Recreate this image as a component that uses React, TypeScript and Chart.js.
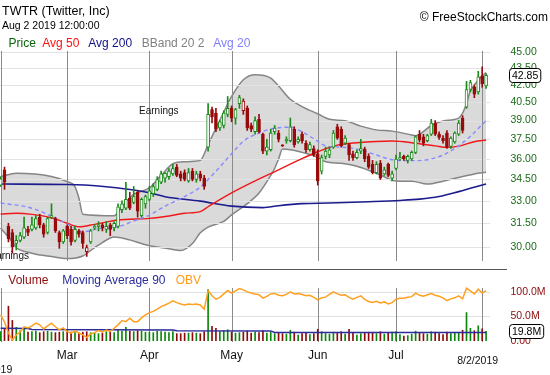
import React, { useEffect, useRef } from 'react';
import { Chart, registerables } from 'chart.js';

Chart.register(...registerables);

const FONT = "'Liberation Sans', Arial, sans-serif";

// ---------- texts ----------
const tickerTitle = 'TWTR (Twitter, Inc)';
const copyrightText = '\u00A9 FreeStockCharts.com';
const priceLegend = ['Price', 'Avg 50', 'Avg 200', 'BBand 20 2', 'Avg 20'];
const volumeLegend = ['Volume', 'Moving Average 90', 'OBV'];
const monthNames = ['Jan', 'Feb', 'Mar', 'Apr', 'May', 'Jun', 'Jul', 'Aug'];
const year = 2019;

// ---------- trading days ----------
const febDays = [5, 6, 7, 8, 11, 12, 13, 14, 15, 19, 20, 21, 22, 25, 26, 27, 28];
const marDays = [1, 4, 5, 6, 7, 8, 11, 12, 13, 14, 15, 18, 19, 20, 21, 22, 25, 26, 27, 28, 29];
const aprDays = [1, 2, 3, 4, 5, 8, 9, 10, 11, 12, 15, 16, 17, 18, 22, 23, 24, 25, 26, 29, 30];
const mayDays = [1, 2, 3, 6, 7, 8, 9, 10, 13, 14, 15, 16, 17, 20, 21, 22, 23, 24, 28, 29, 30, 31];
const junDays = [3, 4, 5, 6, 7, 10, 11, 12, 13, 14, 17, 18, 19, 20, 21, 24, 25, 26, 27, 28];
const julDays = [1, 2, 3, 5, 8, 9, 10, 11, 12, 15, 16, 17, 18, 19, 22, 23, 24, 25, 26, 29, 30, 31];
const augDays = [1, 2];

// ---------- OHLC ----------
const opens = [
  34.1, 35.2, 31.3, 30.9, 30.2, 30.4, 30.6, 31.1, 31.1, 31.2,
  31.9, 31.4, 30.9, 31.9, 31.8, 30.9, 30.3, 31.3, 31.1, 30.4,
  31.0, 30.9, 29.7, 30.3, 31.2, 31.3, 31.4, 31.1, 31.4, 31.2,
  31.3, 32.4, 32.5, 33.2, 32.9, 33.6, 32.0, 32.8, 33.1, 33.5,
  33.8, 34.3, 34.6, 34.7, 34.9, 35.4, 34.9, 35.0, 34.4, 35.1,
  34.5, 34.9, 34.6, 36.9, 39.9, 39.6, 38.4, 38.6, 39.5, 40.0,
  39.2, 40.4, 39.8, 40.0, 38.6, 38.1, 39.1, 37.9, 36.6, 36.7,
  38.1, 38.0, 37.05, 37.4, 37.4, 38.3, 37.3, 37.9, 37.2, 36.7,
  36.8, 36.4, 35.1, 36.2, 36.3, 36.9, 38.5, 38.3, 37.2, 37.1,
  36.4, 36.1, 36.6, 36.75, 36.2, 35.6, 35.0, 35.7, 34.9, 35.6,
  34.6, 35.3, 36.0, 36.2, 35.9, 36.0, 36.5, 37.9, 37.7, 37.4,
  37.9, 38.8, 37.9, 37.6, 38.0, 36.95, 37.3, 37.9, 39.2, 40.1,
  41.6, 41.8, 41.4, 42.8, 41.9,
];
const highs = [
  34.7, 35.4, 31.5, 31.1, 30.7, 30.9, 31.9, 31.3, 31.9, 32.0,
  32.1, 31.5, 31.9, 32.8, 31.9, 31.0, 31.1, 31.4, 31.3, 31.3,
  31.1, 31.0, 30.1, 31.1, 31.4, 31.6, 31.5, 31.6, 31.5, 31.6,
  32.8, 33.0, 34.3, 33.6, 34.0, 33.7, 33.2, 33.4, 34.0, 34.2,
  34.7, 35.1, 35.0, 35.3, 35.6, 35.6, 35.1, 35.2, 35.3, 35.3,
  35.1, 35.1, 34.8, 40.4, 40.1, 40.0, 39.0, 39.8, 41.0, 40.2,
  40.0, 41.1, 40.8, 40.2, 38.8, 39.3, 39.5, 38.0, 37.5, 38.3,
  38.6, 38.2, 37.1, 37.7, 39.2, 38.5, 37.7, 38.1, 37.4, 37.3,
  37.0, 36.7, 36.3, 36.9, 36.9, 38.2, 38.7, 38.5, 37.8, 37.2,
  36.6, 36.7, 37.5, 36.9, 36.4, 35.9, 35.8, 35.9, 35.4, 35.7,
  35.1, 36.3, 36.5, 36.3, 36.3, 36.6, 37.8, 38.2, 37.9, 37.9,
  39.1, 39.0, 38.1, 37.8, 38.2, 37.7, 38.1, 39.0, 39.4, 42.3,
  42.4, 42.0, 43.2, 43.6, 43.0,
];
const lows = [
  34.0, 33.8, 30.3, 29.6, 29.8, 30.3, 30.5, 30.7, 31.0, 31.1,
  31.2, 30.6, 30.8, 31.8, 30.9, 29.9, 30.2, 30.5, 30.1, 30.3,
  30.6, 29.9, 29.4, 30.2, 31.1, 31.0, 31.0, 30.9, 30.7, 31.0,
  31.2, 32.2, 32.4, 32.4, 32.8, 31.9, 31.9, 32.5, 33.0, 33.3,
  33.7, 34.2, 34.3, 34.5, 34.8, 34.7, 34.4, 34.4, 34.3, 34.4,
  34.3, 34.4, 33.8, 36.6, 38.8, 38.1, 38.2, 38.4, 39.3, 38.9,
  38.7, 40.0, 39.5, 38.2, 38.1, 37.9, 38.0, 36.4, 36.3, 36.6,
  37.9, 37.3, 36.95, 37.2, 37.3, 36.9, 37.2, 37.2, 36.5, 36.6,
  36.2, 34.1, 34.9, 36.0, 36.1, 36.8, 37.5, 36.9, 37.1, 35.9,
  35.9, 36.0, 36.4, 35.8, 35.3, 34.9, 34.9, 34.5, 34.8, 34.7,
  34.4, 35.2, 35.9, 35.9, 35.7, 35.9, 36.4, 37.3, 37.0, 37.3,
  37.8, 37.8, 37.5, 37.2, 36.8, 36.8, 37.2, 37.8, 38.0, 40.0,
  41.4, 40.9, 41.2, 41.8, 41.7,
];
const closes = [
  34.55, 34.3, 30.5, 30.0, 30.4, 30.7, 31.2, 30.9, 31.4, 31.8,
  31.4, 30.8, 31.8, 32.0, 31.0, 30.3, 31.0, 30.7, 30.3, 31.1,
  30.8, 30.2, 29.95, 31.0, 31.3, 31.4, 31.2, 31.3, 31.1, 31.5,
  32.6, 32.8, 33.1, 32.5, 33.3, 32.3, 33.1, 33.3, 33.7, 34.0,
  34.5, 34.9, 34.95, 35.1, 35.3, 34.8, 34.6, 34.5, 35.0, 34.5,
  34.9, 34.6, 34.0, 39.5, 39.3, 38.3, 38.9, 39.6, 40.0, 39.2,
  39.9, 40.9, 40.6, 38.4, 38.3, 39.0, 38.1, 36.6, 36.9, 38.0,
  38.4, 37.5, 37.0, 37.5, 38.5, 37.1, 37.5, 37.4, 36.7, 37.1,
  36.3, 34.4, 36.1, 36.6, 36.7, 38.0, 37.6, 37.0, 37.6, 36.3,
  36.1, 36.5, 36.8, 36.0, 35.4, 35.0, 35.6, 34.6, 35.2, 34.8,
  34.9, 36.0, 36.1, 36.0, 36.2, 36.5, 37.7, 37.45, 37.2, 37.8,
  38.8, 37.9, 37.65, 37.4, 36.9, 37.6, 38.0, 38.8, 38.2, 41.6,
  42.2, 41.2, 42.7, 42.1, 42.85,
];

// ---------- volume (millions) & OBV ----------
const volumes = [
  19, 24, 71, 42, 28, 21, 27, 18, 19, 20,
  17, 19, 20, 18, 17, 18, 19, 21, 18, 17,
  16, 18, 19, 17, 16, 15, 16, 19, 18, 17,
  22, 20, 28, 20, 19, 21, 20, 18, 18, 17,
  20, 19, 18, 17, 19, 15, 15, 16, 16, 17,
  16, 15, 19, 105, 30, 26, 19, 21, 23, 18,
  16, 17, 18, 20, 16, 18, 17, 21, 16, 18,
  15, 16, 15, 14, 22, 18, 12, 15, 16, 13,
  15, 24, 19, 15, 14, 18, 17, 19, 14, 24,
  16, 12, 15, 16, 18, 17, 15, 19, 14, 17,
  18, 19, 13, 10, 11, 14, 20, 17, 15, 14,
  19, 18, 15, 13, 18, 15, 16, 17, 22, 58,
  26, 21, 31, 25, 19.8,
];
const obv = [
  148, 106, 41, 0, 30, 47, 77, 71, 83, 99,
  89, 65, 83, 99, 78, 59, 71, 49, 40, 53,
  41, 30, 14, 35, 43, 56, 47, 59, 50, 69,
  89, 114, 108, 128, 108, 108, 130, 148, 161, 168,
  181, 196, 206, 217, 230, 220, 212, 206, 212, 209,
  212, 206, 181, 291, 260, 240, 251, 271, 291, 276,
  289, 303, 295, 283, 277, 271, 266, 246, 257, 271,
  274, 263, 260, 268, 283, 271, 274, 268, 260, 263,
  251, 236, 248, 252, 268, 283, 271, 263, 266, 251,
  240, 251, 260, 239, 226, 220, 227, 218, 224, 212,
  220, 240, 245, 246, 251, 255, 276, 263, 257, 266,
  273, 263, 257, 248, 232, 242, 248, 260, 242, 305,
  289, 271, 299, 276, 291,
];

// ---------- indicator lines (day index -> value) ----------
const bbUpperDays = [0, 4, 13, 17, 19, 20, 21, 29, 31, 34, 38, 41, 44, 47, 51, 53, 57, 59, 62, 65, 69, 71, 74, 77, 81, 84, 88, 92, 96, 100, 105, 106, 110, 113, 117, 118, 119, 120, 121, 122, 123, 124];
const bbUpperValues = [34.7, 34.95, 34.72, 34.35, 34.0, 33.2, 32.1, 32.0, 32.6, 33.45, 33.9, 34.8, 35.65, 35.8, 35.9, 37.1, 39.7, 41.0, 42.45, 42.9, 42.6, 41.9, 40.76, 40.15, 39.55, 39.1, 38.98, 38.55, 38.25, 38.15, 37.85, 37.78, 38.6, 38.97, 39.2, 39.6, 40.4, 41.5, 42.0, 42.4, 42.8, 43.1];
const bbLowerDays = [0, 3, 4, 8, 13, 17, 21, 24, 25, 28, 29, 33, 37, 43, 46, 49, 51, 53, 57, 59, 63, 66, 69, 70, 71, 72, 74, 77, 80, 83, 87, 91, 94, 97, 100, 102, 105, 109, 113, 117, 121, 124];
const bbLowerValues = [31.19, 30.3, 29.95, 29.6, 29.39, 29.27, 29.43, 29.95, 30.1, 30.55, 30.62, 30.43, 30.12, 29.87, 29.76, 30.2, 30.88, 31.25, 31.62, 32.05, 32.81, 33.55, 34.8, 35.3, 36.0, 36.75, 36.7, 36.5, 36.25, 35.8, 35.68, 35.46, 35.17, 34.82, 34.45, 34.38, 34.38, 34.17, 34.38, 34.64, 34.9, 35.02];
const avg20Days = [0, 8, 17, 21, 25, 30, 34, 38, 42, 47, 51, 55, 59, 62, 66, 70, 74, 76, 80, 83, 87, 92, 96, 100, 105, 109, 113, 117, 120, 124];
const avg20Values = [32.85, 32.5, 31.46, 30.95, 31.14, 31.27, 31.65, 32.04, 32.64, 33.3, 33.96, 35.1, 36.4, 37.35, 38.0, 38.38, 38.46, 38.25, 37.55, 37.0, 36.9, 36.7, 36.3, 35.95, 35.88, 35.95, 36.3, 37.0, 37.75, 39.0];
const avg50Days = [0, 4, 8, 13, 17, 20, 24, 30, 38, 43, 47, 51, 53, 59, 65, 71, 76, 81, 86, 91, 100, 106, 111, 114, 117, 121, 124];
const avg50Values = [32.11, 32.16, 32.09, 31.86, 31.5, 31.27, 31.43, 31.71, 31.82, 31.98, 32.16, 32.27, 32.6, 33.55, 34.4, 35.2, 35.9, 36.55, 37.06, 37.24, 37.37, 37.2, 37.0, 36.88, 36.98, 37.32, 37.45];
const avg200Days = [0, 17, 25, 34, 38, 42, 51, 59, 67, 71, 77, 84, 94, 102, 107, 112, 117, 124];
const avg200Values = [34.18, 34.14, 34.04, 33.76, 33.56, 33.29, 32.98, 32.64, 32.54, 32.67, 32.81, 32.85, 32.94, 33.03, 33.12, 33.3, 33.64, 34.18];
const volMaDays = [0, 7, 8, 44, 45, 69, 70, 124];
const volMaValues = [25.9, 25.6, 23.5, 22.3, 21.0, 20.6, 17.5, 17.6];

// earnings annotations (day position, price level)
const earningsDays = [2.2, 40.4];
const earningsPrices = [29.4, 39.74];

// axis ticks
const priceTicks = [30, 31.5, 33, 34.5, 36, 37.5, 39, 40.5, 42, 43.5, 45];
const volumeTicks = [0, 50, 100];

// ---------- derived ----------
const dates = [
  ...febDays.map((d) => ({ m: 2, d })),
  ...marDays.map((d) => ({ m: 3, d })),
  ...aprDays.map((d) => ({ m: 4, d })),
  ...mayDays.map((d) => ({ m: 5, d })),
  ...junDays.map((d) => ({ m: 6, d })),
  ...julDays.map((d) => ({ m: 7, d })),
  ...augDays.map((d) => ({ m: 8, d })),
];
const periodStarts = dates.map((dt, i) => (i === 0 || dates[i - 1].m !== dt.m ? i : -1)).filter((i) => i >= 0);
const lastIdx = dates.length - 1;

const GREEN = '#1b8a1b';
const RED = '#990b0b';
const upDay = closes.map((c, i) => c >= (i ? closes[i - 1] : opens[i]));
const candleColors = upDay.map((u) => (u ? GREEN : RED));
const bodyFills = closes.map((c, i) => (c > opens[i] ? '#ffffff' : candleColors[i]));
const volColors = upDay.map((u) => (u ? '#0c870c' : '#8e0a0a'));

const X_MIN = -0.153;
const X_MAX = 125.0;

const pts = (days: number[], vals: number[]) => days.map((d, k) => ({ x: d, y: vals[k] }));

function lineDs(label: string, data: any[], color: string, width: number, extra: any = {}) {
  return {
    type: 'line',
    label,
    data,
    borderColor: color,
    borderWidth: width,
    pointRadius: 0,
    pointHoverRadius: 0,
    fill: false,
    cubicInterpolationMode: 'monotone',
    ...extra,
  };
}

function drawText(
  ctx: CanvasRenderingContext2D,
  s: string,
  x: number,
  y: number,
  size: number,
  color: string,
  align: CanvasTextAlign = 'left',
  baseline: CanvasTextBaseline = 'alphabetic'
) {
  ctx.font = `${size}px ${FONT}`;
  ctx.fillStyle = color;
  ctx.textAlign = align;
  ctx.textBaseline = baseline;
  ctx.fillText(s, x, y);
}

function valueBox(ctx: CanvasRenderingContext2D, s: string, x: number, yMid: number, size: number) {
  ctx.font = `${size}px ${FONT}`;
  const w = ctx.measureText(s).width;
  const bh = 14;
  const by = Math.round(yMid - bh / 2) + 0.5;
  ctx.beginPath();
  (ctx as any).roundRect(x - 2.5, by, w + 5, bh, 3);
  ctx.fillStyle = '#ffffff';
  ctx.fill();
  ctx.strokeStyle = '#000000';
  ctx.lineWidth = 1;
  ctx.stroke();
  drawText(ctx, s, x, yMid + 0.5, size, '#000000', 'left', 'middle');
}

function hLine(ctx: CanvasRenderingContext2D, x1: number, x2: number, y: number) {
  const yy = Math.round(y) + 0.5;
  ctx.beginPath();
  ctx.moveTo(x1, yy);
  ctx.lineTo(x2, yy);
  ctx.stroke();
}
function vLine(ctx: CanvasRenderingContext2D, x: number, y1: number, y2: number) {
  const xx = Math.round(x) + 0.5;
  ctx.beginPath();
  ctx.moveTo(xx, y1);
  ctx.lineTo(xx, y2);
  ctx.stroke();
}

const pricePlugin = {
  id: 'pricePlugin',
  afterDatasetDraw(chart: any, args: any) {
    if (args.index !== 1) return;
    const { ctx, chartArea: a, scales } = chart;
    ctx.save();
    ctx.lineWidth = 1;
    ctx.strokeStyle = '#e3e3e3';
    priceTicks.forEach((v) => hLine(ctx, a.left, a.right, scales.y.getPixelForValue(v)));
    ctx.strokeStyle = '#8a8a8a';
    periodStarts.forEach((i) => vLine(ctx, scales.x.getPixelForValue(i), a.top, a.bottom));
    ctx.restore();
  },
  afterDatasetsDraw(chart: any) {
    const { ctx, scales } = chart;
    ctx.save();
    earningsDays.forEach((d, k) =>
      drawText(ctx, 'Earnings', scales.x.getPixelForValue(d), scales.y.getPixelForValue(earningsPrices[k]), 10, '#111111', 'center', 'middle')
    );
    ctx.restore();
  },
  afterDraw(chart: any) {
    const { ctx, chartArea: a, scales } = chart;
    ctx.save();
    const last = dates[lastIdx];
    drawText(ctx, tickerTitle, 2, 15, 12.5, '#000000');
    drawText(ctx, `${monthNames[last.m - 1]} ${last.d} ${year} 12:00:00`, 2, 29, 10.5, '#000000');
    drawText(ctx, copyrightText, 548, 21, 12, '#000000', 'right');
    const legendX = [8.5, 42.3, 88.3, 141.7, 213.3];
    const legendColors = ['#0b640b', '#ff1010', '#10108a', '#808080', '#8080ff'];
    priceLegend.forEach((s, k) => drawText(ctx, s, legendX[k], 47, 12, legendColors[k]));
    priceTicks.forEach((v) =>
      drawText(ctx, v.toFixed(2), a.right + 20.5, scales.y.getPixelForValue(v), 10.5, '#1a6b1a', 'left', 'middle')
    );
    valueBox(ctx, closes[lastIdx].toFixed(2), a.right + 22, scales.y.getPixelForValue(closes[lastIdx]), 10.5);
    ctx.restore();
  },
};

const volumePlugin = {
  id: 'volumePlugin',
  beforeDatasetsDraw(chart: any) {
    const { ctx, chartArea: a, scales } = chart;
    ctx.save();
    ctx.lineWidth = 1;
    ctx.strokeStyle = '#e0e0e0';
    volumeTicks.filter((v) => v > 0).forEach((v) => hLine(ctx, a.left, a.right, scales.v.getPixelForValue(v)));
    ctx.strokeStyle = '#8a8a8a';
    periodStarts.forEach((i) => vLine(ctx, scales.x.getPixelForValue(i), a.top + 16, a.bottom + 1));
    ctx.restore();
  },
  afterDraw(chart: any) {
    const { ctx, chartArea: a, scales } = chart;
    ctx.save();
    ctx.strokeStyle = '#555555';
    ctx.lineWidth = 1;
    hLine(ctx, 0, 507, 3);
    const legX = [8.3, 62.3, 175.7];
    const legC = ['#8b0a0a', '#2b2b9b', '#ff9a1a'];
    volumeLegend.forEach((s, k) => drawText(ctx, s, legX[k], 18, 12, legC[k]));
    volumeTicks.forEach((v) =>
      drawText(ctx, v === 0 ? '0.00' : `${v.toFixed(1)}M`, a.right + 20.5, scales.v.getPixelForValue(v), 10.5, '#8b0a0a', 'left', 'middle')
    );
    valueBox(ctx, `${volumes[lastIdx].toFixed(1)}M`, a.right + 22, scales.v.getPixelForValue(volumes[lastIdx]), 10.5);
    periodStarts.forEach((i, k) => {
      if (k === 0 || k === periodStarts.length - 1) return;
      drawText(ctx, monthNames[dates[i].m - 1], scales.x.getPixelForValue(i), 93, 12, '#111111', 'center');
    });
    const last = dates[lastIdx];
    drawText(ctx, `${last.m}/${last.d}/${year}`, scales.x.getPixelForValue(lastIdx) + 12, 98, 10.5, '#111111', 'right');
    drawText(ctx, `${year}`, scales.x.getPixelForValue(0), 106.5, 10.5, '#111111', 'center');
    ctx.restore();
  },
};

export default function App() {
  const priceRef = useRef<HTMLCanvasElement>(null);
  const volRef = useRef<HTMLCanvasElement>(null);

  useEffect(() => {
    document.body.style.margin = '0';
    const xScale = { type: 'linear', min: X_MIN, max: X_MAX, display: false, offset: false };

    const priceChart = new Chart(priceRef.current as HTMLCanvasElement, {
      type: 'line',
      data: {
        datasets: [
          lineDs('BBand upper', pts(bbUpperDays, bbUpperValues), '#858585', 1.5, { fill: '+1', backgroundColor: '#dadada', order: 10 }),
          lineDs('BBand lower', pts(bbLowerDays, bbLowerValues), '#858585', 1.5, { order: 9 }),
          lineDs('Avg 200', pts(avg200Days, avg200Values), '#1c1c8e', 1.6, { order: 6 }),
          lineDs('Avg 50', pts(avg50Days, avg50Values), '#f01818', 1.4, { order: 5 }),
          lineDs('Avg 20', pts(avg20Days, avg20Values), '#8a8aff', 1.4, { order: 4, borderDash: [4, 3] }),
          {
            type: 'bar',
            label: 'wick',
            data: dates.map((_, i) => ({ x: i, y: [lows[i], highs[i]] })),
            backgroundColor: candleColors,
            borderWidth: 0,
            barThickness: 1,
            grouped: false,
            order: 2,
          },
          {
            type: 'bar',
            label: 'body',
            data: dates.map((_, i) => ({ x: i, y: [opens[i], closes[i]] })),
            backgroundColor: bodyFills,
            borderColor: candleColors,
            borderWidth: 1,
            borderSkipped: false,
            barThickness: 3,
            grouped: false,
            order: 1,
          },
        ] as any,
      },
      options: {
        responsive: false,
        animation: false,
        events: [],
        layout: { padding: { top: 51, bottom: 5, left: 0, right: 60 } },
        plugins: { legend: { display: false }, tooltip: { enabled: false } },
        scales: {
          x: xScale as any,
          y: { type: 'logarithmic', min: 29.122, max: 45.066, display: false },
        },
      },
      plugins: [pricePlugin],
    });

    const volChart = new Chart(volRef.current as HTMLCanvasElement, {
      type: 'line',
      data: {
        datasets: [
          {
            type: 'bar',
            label: 'Volume',
            data: volumes.map((v, i) => ({ x: i, y: v })),
            backgroundColor: volColors,
            borderWidth: 0,
            barThickness: 1,
            grouped: false,
            yAxisID: 'v',
            order: 3,
          },
          lineDs('Moving Average 90', pts(volMaDays, volMaValues), '#2b2b9b', 1.5, { yAxisID: 'v', order: 2, cubicInterpolationMode: 'default' }),
          lineDs('OBV', obv.map((v, i) => ({ x: i, y: v })), '#ffa020', 1.5, { yAxisID: 'obv', order: 1, cubicInterpolationMode: 'default' }),
        ] as any,
      },
      options: {
        responsive: false,
        animation: false,
        events: [],
        layout: { padding: { top: 6, bottom: 34, left: 0, right: 60 } },
        plugins: { legend: { display: false }, tooltip: { enabled: false } },
        scales: {
          x: xScale as any,
          v: { type: 'linear', min: 0, max: 140.8, display: false },
          obv: { type: 'linear', min: -6, max: 400, display: false },
        },
      },
      plugins: [volumePlugin],
    });

    return () => {
      priceChart.destroy();
      volChart.destroy();
    };
  }, []);

  return (
    <div style={{ position: 'fixed', left: 0, top: 0, width: 550, height: 375, background: '#ffffff', overflow: 'hidden' }}>
      <canvas ref={priceRef} width={550} height={266} style={{ position: 'absolute', left: 0, top: 0, width: 550, height: 266 }} />
      <canvas ref={volRef} width={550} height={109} style={{ position: 'absolute', left: 0, top: 266, width: 550, height: 109 }} />
    </div>
  );
}
